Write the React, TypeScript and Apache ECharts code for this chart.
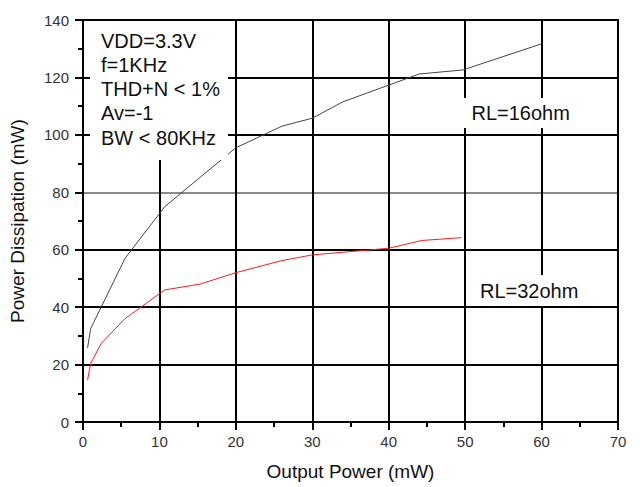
import React, { useEffect, useRef } from "react";
import * as echarts from "echarts";

const xTicks = [0, 10, 20, 30, 40, 50, 60, 70];
const yTicks = [0, 20, 40, 60, 80, 100, 120, 140];

const rl16X = [0.6, 1.0, 5.5, 10.7, 15, 20, 26, 30, 34, 44, 49.7, 60];
const rl16Y = [25.8, 32.5, 57, 75, 84.5, 95.5, 103, 105.8, 111.5, 121.2, 122.6, 131.7];

const rl32X = [0.6, 1.0, 2.4, 5.5, 10.7, 15.3, 20, 26, 30, 40, 44.3, 49.5];
const rl32Y = [14.6, 20.4, 27.4, 36, 46, 48, 52, 56.2, 58.2, 60.5, 63.2, 64.2];

const conditionLines = ["VDD=3.3V", "f=1KHz", "THD+N < 1%", "Av=-1", "BW < 80KHz"];
const label16 = "RL=16ohm";
const label32 = "RL=32ohm";

const FONT = "'Liberation Sans', Arial, sans-serif";

export default function App() {
  const ref = useRef<HTMLDivElement>(null);
  useEffect(() => {
    if (!ref.current) return;
    const chart = echarts.init(ref.current, null, { renderer: "svg" });
    const axisCommon = {
      type: "value" as const,
      axisLine: { show: true, lineStyle: { color: "#000", width: 2 } },
      axisTick: { show: true, inside: false, length: 8, lineStyle: { color: "#000", width: 2 } },
      minorTick: { show: true, splitNumber: 2, length: 5, lineStyle: { color: "#000", width: 2 } },
      axisLabel: { color: "#333", fontFamily: FONT, fontSize: 15 },
      nameTextStyle: { color: "#111", fontFamily: FONT, fontSize: 19 },
      nameLocation: "middle" as const,
    };
    const option: any = {
      animation: false,
      backgroundColor: "#fff",
      grid: {
        left: 79,
        right: 22,
        top: 20,
        bottom: 65,
        show: true,
        borderColor: "#000",
        borderWidth: 2,
        containLabel: false,
      },
      xAxis: {
        ...axisCommon,
        min: xTicks[0],
        max: xTicks[xTicks.length - 1],
        interval: 10,
        name: "Output Power (mW)",
        nameGap: 40,
        axisLabel: { ...axisCommon.axisLabel, margin: 12 },
        splitLine: { show: true, lineStyle: { color: "#000", width: 2 } },
      },
      yAxis: {
        ...axisCommon,
        min: yTicks[0],
        max: yTicks[yTicks.length - 1],
        interval: 20,
        name: "Power Dissipation (mW)",
        nameGap: 56,
        axisLabel: { ...axisCommon.axisLabel, margin: 14 },
        splitLine: {
          show: true,
          lineStyle: {
            color: yTicks.map((v) => (v === 80 ? "#8a8a8a" : "#000")),
            width: 2,
          },
        },
      },
      series: [
        {
          name: label16,
          type: "line",
          data: rl16X.map((x, i) => [x, rl16Y[i]]),
          showSymbol: false,
          lineStyle: { color: "#444", width: 1 },
          z: 3,
        },
        {
          name: label32,
          type: "line",
          data: rl32X.map((x, i) => [x, rl32Y[i]]),
          showSymbol: false,
          lineStyle: { color: "#ff1a1a", width: 1 },
          z: 3,
        },
      ],
      graphic: [
        { type: "rect", z: 100, shape: { x: 90, y: 21, width: 138, height: 139 }, style: { fill: "#fff" } },
        ...conditionLines.map((t, i) => ({
          type: "text",
          z: 101,
          x: 101,
          y: 40.7 + i * 24.2,
          style: { text: t, fill: "#111", font: `20px ${FONT}`, textVerticalAlign: "middle", verticalAlign: "middle" },
        })),
        { type: "rect", z: 100, shape: { x: 460, y: 98, width: 120, height: 30 }, style: { fill: "#fff" } },
        {
          type: "text",
          z: 101,
          x: 471.5,
          y: 113,
          style: { text: label16, fill: "#111", font: `20px ${FONT}`, verticalAlign: "middle" },
        },
        { type: "rect", z: 100, shape: { x: 470, y: 275, width: 120, height: 31 }, style: { fill: "#fff" } },
        {
          type: "text",
          z: 101,
          x: 480,
          y: 291,
          style: { text: label32, fill: "#111", font: `20px ${FONT}`, verticalAlign: "middle" },
        },
      ],
    };
    chart.setOption(option);
    return () => chart.dispose();
  }, []);
  return (
    <div
      ref={ref}
      style={{ position: "absolute", left: 0, top: 0, width: 640, height: 487, background: "#fff" }}
    />
  );
}
